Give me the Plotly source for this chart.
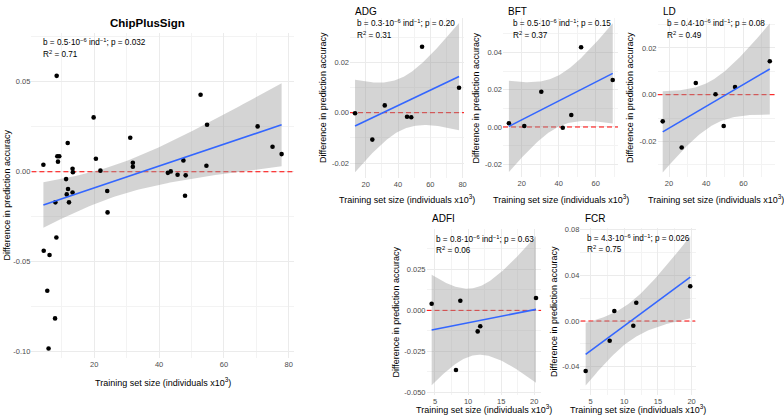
import numpy as np
import plotly.graph_objects as go

W, H = 784, 418

# ---------------- data ----------------
chip_x = [4.3, 8.4, 8.6, 9.2, 8.8, 11.8, 11.3, 11.9, 11.5, 12.2, 8.0, 13.3, 13.4, 13.3,
          19.8, 20.5, 21.9, 24.0, 24.1, 31.1, 31.9, 31.9, 42.7, 43.6, 45.7, 47.5, 48.2,
          48.0, 52.8, 54.8, 54.6, 70.4, 75.0, 77.8, 8.3, 4.4, 6.2, 5.5, 7.9, 5.9]
chip_y = [0.0039, 0.0533, 0.0086, 0.0086, 0.0056, 0.0160, -0.0041, -0.0096, -0.0126, -0.0170,
          -0.0170, 0.0017, -0.0003, -0.0115, 0.0302, 0.0072, 0.0006, -0.0107, -0.0226, 0.0189,
          0.0050, 0.0028, -0.0006, 0.0002, -0.0017, 0.0063, -0.0020, -0.0133, 0.0428, 0.0261,
          0.0033, 0.0252, 0.0139, 0.0098, -0.0365, -0.0439, -0.0463, -0.0661, -0.0815, -0.0982]

adg_x = [13.4, 24.1, 31.8, 45.6, 48.2, 54.9, 77.8]
adg_y = [-0.0002, -0.0107, 0.0029, -0.0016, -0.0018, 0.0262, 0.0099]

bft_x = [13.1, 21.4, 30.6, 42.2, 46.8, 52.1, 69.2]
bft_y = [0.0020, 0.0005, 0.0189, -0.0004, 0.0064, 0.0427, 0.0252]

ld_x = [16.6, 26.8, 34.4, 45.0, 49.4, 55.5, 74.2]
ld_y = [-0.0114, -0.0226, 0.0050, 0.0002, -0.0134, 0.0033, 0.0143]

adfi_x = [4.5, 8.17, 8.83, 11.45, 11.84, 20.26]
adfi_y = [0.0040, -0.0363, 0.0058, -0.0128, -0.0097, 0.0075]

fcr_x = [4.26, 7.83, 8.52, 11.34, 11.78, 19.8]
fcr_y = [-0.0437, -0.0172, 0.0087, -0.0041, 0.0160, 0.0303]

panel_names = ["ChipPlusSign", "ADG", "BFT", "LD", "ADFI", "FCR"]
stat_b = ["0.5", "0.3", "0.5", "0.4", "0.8", "4.3"]
stat_p = ["0.032", "0.20", "0.15", "0.08", "0.63", "0.026"]
stat_r2 = ["0.71", "0.31", "0.37", "0.49", "0.06", "0.75"]

chip_xticks = [20, 40, 60, 80]
chip_yticks = [-0.10, -0.05, 0.00, 0.05]
chip_yticklabels = ["-0.10", "-0.05", "0.00", "0.05"]
adg_xticks = [20, 40, 60, 80]
adg_yticks = [-0.02, 0.00, 0.02]
adg_yticklabels = ["-0.02", "0.00", "0.02"]
bft_xticks = [20, 40, 60]
bft_yticks = [-0.02, 0.00, 0.02, 0.04]
bft_yticklabels = ["-0.02", "0.00", "0.02", "0.04"]
ld_xticks = [20, 40, 60]
ld_yticks = [-0.02, 0.00, 0.02]
ld_yticklabels = ["-0.02", "0.00", "0.02"]
adfi_xticks = [5, 10, 15, 20]
adfi_yticks = [-0.050, -0.025, 0.000, 0.025]
adfi_yticklabels = ["-0.050", "-0.025", "0.000", "0.025"]
fcr_xticks = [5, 10, 15, 20]
fcr_yticks = [-0.04, 0.00, 0.04, 0.08]
fcr_yticklabels = ["-0.04", "0.00", "0.04", "0.08"]

# ---------------- layout geometry (pixels) ----------------
panels = [
    dict(x=chip_x, y=chip_y, box=(31.4, 33, 293.6, 358), xr=(0.6, 81.5), yr=(-0.1035, 0.0771),
         xt=chip_xticks, yt=chip_yticks, ytl=chip_yticklabels,
         xminor=[10, 30, 50, 70], yminor=[-0.075, -0.025, 0.025, 0.075]),
    dict(x=adg_x, y=adg_y, box=(350, 18, 464, 178), xr=(10.28, 80.87), yr=(-0.02596, 0.03765),
         xt=adg_xticks, yt=adg_yticks, ytl=adg_yticklabels,
         xminor=[30, 50, 70], yminor=[-0.01, 0.01, 0.03]),
    dict(x=bft_x, y=bft_y, box=(503, 18, 618, 177), xr=(9.9, 72.05), yr=(-0.0268, 0.0584),
         xt=bft_xticks, yt=bft_yticks, ytl=bft_yticklabels,
         xminor=[10, 30, 50, 70], yminor=[-0.01, 0.01, 0.03, 0.05]),
    dict(x=ld_x, y=ld_y, box=(657.5, 18, 775, 177), xr=(13.8, 77.0), yr=(-0.0352, 0.0328),
         xt=ld_xticks, yt=ld_yticks, ytl=ld_yticklabels,
         xminor=[30, 50, 70], yminor=[-0.03, -0.01, 0.01, 0.03]),
    dict(x=adfi_x, y=adfi_y, box=(426.5, 229, 541.3, 395), xr=(3.72, 21.06), yr=(-0.0515, 0.0495),
         xt=adfi_xticks, yt=adfi_yticks, ytl=adfi_yticklabels,
         xminor=[7.5, 12.5, 17.5], yminor=[-0.0375, -0.0125, 0.0125, 0.0375]),
    dict(x=fcr_x, y=fcr_y, box=(580.4, 228, 695.5, 395), xr=(3.48, 20.58), yr=(-0.0646, 0.0812),
         xt=fcr_xticks, yt=fcr_yticks, ytl=fcr_yticklabels,
         xminor=[7.5, 12.5, 17.5], yminor=[-0.06, -0.02, 0.02, 0.06]),
]

FONT = "Liberation Sans, Arial, Helvetica, sans-serif"
GRID = "#EBEBEB"
GRID_MINOR = "#F3F3F3"
TICKC = "#4D4D4D"


def tq975(df):
    z = 1.959964
    return (z + (z**3 + z) / (4 * df)
            + (5 * z**5 + 16 * z**3 + 3 * z) / (96 * df**2)
            + (3 * z**7 + 19 * z**5 + 17 * z**3 - 15 * z) / (384 * df**3)
            + (79 * z**9 + 776 * z**7 + 1482 * z**5 - 1920 * z**3 - 945 * z) / (92160 * df**4))


def lm_fit(x, y):
    x = np.asarray(x, float)
    y = np.asarray(y, float)
    n = len(x)
    b1, b0 = np.polyfit(x, y, 1)
    xs = np.linspace(x.min(), x.max(), 80)
    yh = b0 + b1 * xs
    res = y - (b0 + b1 * x)
    s = np.sqrt(np.sum(res**2) / (n - 2))
    xb = x.mean()
    sxx = np.sum((x - xb) ** 2)
    se = s * np.sqrt(1.0 / n + (xs - xb) ** 2 / sxx)
    t = tq975(n - 2)
    return xs, yh, yh - t * se, yh + t * se


def px_x(px):
    return px / W


def px_y(py):
    return 1 - py / H


fig = go.Figure()
annotations = []
layout_axes = {}

for i, p in enumerate(panels):
    k = "" if i == 0 else str(i + 1)
    xa, ya = "x" + k, "y" + k
    l, t, r, b = p["box"]

    # red dashed reference line at 0 (drawn first, under the band)
    fig.add_trace(go.Scatter(
        x=list(p["xr"]), y=[0, 0], mode="lines",
        line=dict(color="#FF0000", width=1, dash="5px,3px"),
        hoverinfo="skip", showlegend=False, xaxis=xa, yaxis=ya))

    xs, yh, lo, hi = lm_fit(p["x"], p["y"])
    fig.add_trace(go.Scatter(
        x=np.concatenate([xs, xs[::-1]]), y=np.concatenate([hi, lo[::-1]]),
        fill="toself", fillcolor="rgba(153,153,153,0.42)", line=dict(width=0),
        mode="lines", hoverinfo="skip", showlegend=False, xaxis=xa, yaxis=ya))
    fig.add_trace(go.Scatter(
        x=p["x"], y=p["y"], mode="markers",
        marker=dict(color="#000000", size=4.6, line=dict(width=0)),
        showlegend=False, xaxis=xa, yaxis=ya))
    fig.add_trace(go.Scatter(
        x=xs, y=yh, mode="lines", line=dict(color="#3366FF", width=1.6),
        showlegend=False, hoverinfo="skip", xaxis=xa, yaxis=ya))

    axcommon = dict(showline=False, zeroline=False, ticks="", showgrid=True,
                    gridcolor=GRID, gridwidth=1, automargin=False,
                    tickfont=dict(family=FONT, size=7.5, color=TICKC))
    layout_axes["xaxis" + k] = dict(
        axcommon, domain=[px_x(l), px_x(r)], range=list(p["xr"]),
        anchor=ya, tickmode="array", tickvals=p["xt"],
        ticktext=[str(v) for v in p["xt"]],
        minor=dict(tickmode="array", tickvals=p["xminor"], showgrid=True,
                   gridcolor=GRID_MINOR, gridwidth=0.6))
    layout_axes["yaxis" + k] = dict(
        axcommon, domain=[px_y(b), px_y(t)], range=list(p["yr"]),
        anchor=xa, tickmode="array", tickvals=p["yt"], ticktext=p["ytl"],
        minor=dict(tickmode="array", tickvals=p["yminor"], showgrid=True,
                   gridcolor=GRID_MINOR, gridwidth=0.6))

    # panel title
    if i == 0:
        annotations.append(dict(text="<b>" + panel_names[i] + "</b>", x=px_x(147.5),
                                y=px_y(23), xref="paper", yref="paper", showarrow=False,
                                xanchor="center", yanchor="middle",
                                font=dict(family=FONT, size=11.5, color="#000000")))
        sx, sy1, sy2 = l + 9.5, 41.5, 54.5
        ytx = 6
        xty = 382
    else:
        ty = 11.5 if i < 4 else 218.5
        annotations.append(dict(text=panel_names[i], x=px_x(l + 3), y=px_y(ty),
                                xref="paper", yref="paper", showarrow=False,
                                xanchor="left", yanchor="middle",
                                font=dict(family=FONT, size=10, color="#000000")))
        sx = l + (5 if i in (1, 5) else 7.5)
        sy1, sy2 = (23, 35.5) if i < 4 else (t + 9.5, t + 21)
        ytx = l - (31 if i == 4 else 27)
        xty = 199 if i < 4 else 409

    annotations.append(dict(
        text="b = " + stat_b[i] + "·10<sup>−6</sup> ind<sup>−1</sup>; p = " + stat_p[i],
        x=px_x(sx), y=px_y(sy1), xref="paper", yref="paper", showarrow=False,
        xanchor="left", yanchor="middle", font=dict(family=FONT, size=8.2, color="#000000")))
    annotations.append(dict(
        text="R<sup>2</sup> = " + stat_r2[i],
        x=px_x(sx), y=px_y(sy2), xref="paper", yref="paper", showarrow=False,
        xanchor="left", yanchor="middle", font=dict(family=FONT, size=8.2, color="#000000")))

    annotations.append(dict(
        text="Training set size (individuals x10<sup>3</sup>)",
        x=px_x((l + r) / 2), y=px_y(xty), xref="paper", yref="paper", showarrow=False,
        xanchor="center", yanchor="middle", font=dict(family=FONT, size=9, color="#000000")))
    annotations.append(dict(
        text="Difference in prediction accuracy", textangle=-90,
        x=px_x(ytx), y=px_y((t + b) / 2), xref="paper", yref="paper", showarrow=False,
        xanchor="center", yanchor="middle", font=dict(family=FONT, size=9, color="#000000")))

fig.update_layout(
    width=W, height=H, margin=dict(l=0, r=0, t=0, b=0, pad=0, autoexpand=False),
    paper_bgcolor="white", plot_bgcolor="white",
    annotations=annotations, showlegend=False,
    font=dict(family=FONT),
    **layout_axes,
)

# remove the browser's default 8px page margin so the figure sits at the window origin
fig.write_html("out.html", config={"displayModeBar": False},
               post_script="document.body.style.margin='0px';")
